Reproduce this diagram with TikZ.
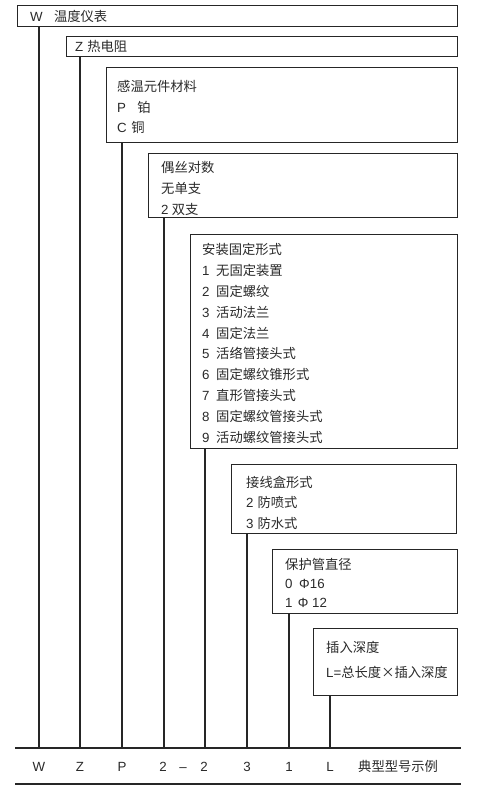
\documentclass[tikz,border=0pt]{standalone}
\usepackage{fontspec}
\setmainfont{Noto Sans CJK SC}
\newfontfamily\lat{Liberation Sans}
\definecolor{lc}{HTML}{262626}
\definecolor{tc}{HTML}{2A2A2A}
\begin{document}
\begin{tikzpicture}[x=1pt,y=-1pt,
  box/.style={draw=lc, line width=1.1pt, fill=white, anchor=north west, inner sep=0pt},
  conn/.style={draw=lc, line width=1.1pt},
  rule/.style={draw=lc, line width=1.3pt},
  txt/.style={anchor=base west, inner sep=0pt, text=tc, font=\fontsize{13.3}{15}\selectfont},
  lab/.style={anchor=base, inner sep=0pt, text=tc, font=\fontsize{13.3}{15}\selectfont\lat}]
\useasboundingbox[fill=white] (0,0) rectangle (481,793);
% boxes
\node[box, minimum width=440pt, minimum height=21pt] (bW) at (17,5) {};
\node[box, minimum width=391pt, minimum height=20pt] (bZ) at (66,36) {};
\node[box, minimum width=351pt, minimum height=75pt] (bP) at (106,67) {};
\node[box, minimum width=309pt, minimum height=64pt] (bN) at (148,153) {};
\node[box, minimum width=267pt, minimum height=214pt] (bA) at (190,234) {};
\node[box, minimum width=225pt, minimum height=69pt] (bJ) at (231,464) {};
\node[box, minimum width=185pt, minimum height=64pt] (bB) at (272,549) {};
\node[box, minimum width=144pt, minimum height=67pt] (bL) at (313,628) {};
% bottom rules
\coordinate (r1l) at (15,748); \coordinate (r1r) at (461,748);
\coordinate (r2l) at (15,784); \coordinate (r2r) at (461,784);
\draw[rule] (r1l) -- (r1r);
\draw[rule] (r2l) -- (r2r);
% connector ends
\coordinate (eW) at (39,748);
\coordinate (eZ) at (80,748);
\coordinate (eP) at (122,748);
\coordinate (eN) at (164,748);
\coordinate (eA) at (205,748);
\coordinate (eJ) at (247,748);
\coordinate (eB) at (289,748);
\coordinate (eL) at (330,748);
\draw[conn] (bW.south -| eW) -- (eW);
\draw[conn] (bZ.south -| eZ) -- (eZ);
\draw[conn] (bP.south -| eP) -- (eP);
\draw[conn] (bN.south -| eN) -- (eN);
\draw[conn] (bA.south -| eA) -- (eA);
\draw[conn] (bJ.south -| eJ) -- (eJ);
\draw[conn] (bB.south -| eB) -- (eB);
\draw[conn] (bL.south -| eL) -- (eL);
% texts
\node[txt] (tW) at (30,21) {{\lat W}\hspace{0.85em}温度仪表};
\node[txt] (tZ) at (75,51) {{\lat Z}\hspace{0.3em}热电阻};
\node[txt] (tP1) at (117,91) {感温元件材料};
\node[txt] (tP2) at (117,112) {{\lat P}\hspace{0.85em}铂};
\node[txt] (tP3) at (117,132) {{\lat C}\hspace{0.35em}铜};
\node[txt] (tN1) at (161,172) {偶丝对数};
\node[txt] (tN2) at (161,193) {无单支};
\node[txt] (tN3) at (161,214) {{\lat 2}\hspace{0.25em}双支};
\node[txt] (tA0) at (202,254) {安装固定形式};
\node[txt] (tA1) at (202,275) {{\lat 1}\hspace{0.5em}无固定装置};
\node[txt] (tA2) at (202,296) {{\lat 2}\hspace{0.5em}固定螺纹};
\node[txt] (tA3) at (202,317) {{\lat 3}\hspace{0.5em}活动法兰};
\node[txt] (tA4) at (202,338) {{\lat 4}\hspace{0.5em}固定法兰};
\node[txt] (tA5) at (202,358) {{\lat 5}\hspace{0.5em}活络管接头式};
\node[txt] (tA6) at (202,379) {{\lat 6}\hspace{0.5em}固定螺纹锥形式};
\node[txt] (tA7) at (202,400) {{\lat 7}\hspace{0.5em}直形管接头式};
\node[txt] (tA8) at (202,421) {{\lat 8}\hspace{0.5em}固定螺纹管接头式};
\node[txt] (tA9) at (202,442) {{\lat 9}\hspace{0.5em}活动螺纹管接头式};
\node[txt] (tJ1) at (246,487) {接线盒形式};
\node[txt] (tJ2) at (246,507) {{\lat 2}\hspace{0.3em}防喷式};
\node[txt] (tJ3) at (246,528) {{\lat 3}\hspace{0.3em}防水式};
\node[txt] (tB1) at (285,569) {保护管直径};
\node[txt] (tB2) at (285,588) {{\lat 0}\hspace{0.5em}{\lat Φ16}};
\node[txt] (tB3) at (285,607) {{\lat 1}\hspace{0.4em}{\lat Φ 12}};
\node[txt] (tL1) at (326,652) {插入深度};
\node[txt] (tL2) at (326,677) {{\lat L=}总长度×插入深度};
% bottom labels
\node[lab] (lW) at (39,771) {W};
\node[lab] (lZ) at (80,771) {Z};
\node[lab] (lP) at (122,771) {P};
\node[lab] (lN) at (163,771) {2};
\node[lab] (ld) at (183,771) {–};
\node[lab] (lA) at (204,771) {2};
\node[lab] (lJ) at (247,771) {3};
\node[lab] (lB) at (289,771) {1};
\node[lab] (lL) at (330,771) {L};
\node[txt] (lt) at (358,771) {典型型号示例};
\end{tikzpicture}
\end{document}
